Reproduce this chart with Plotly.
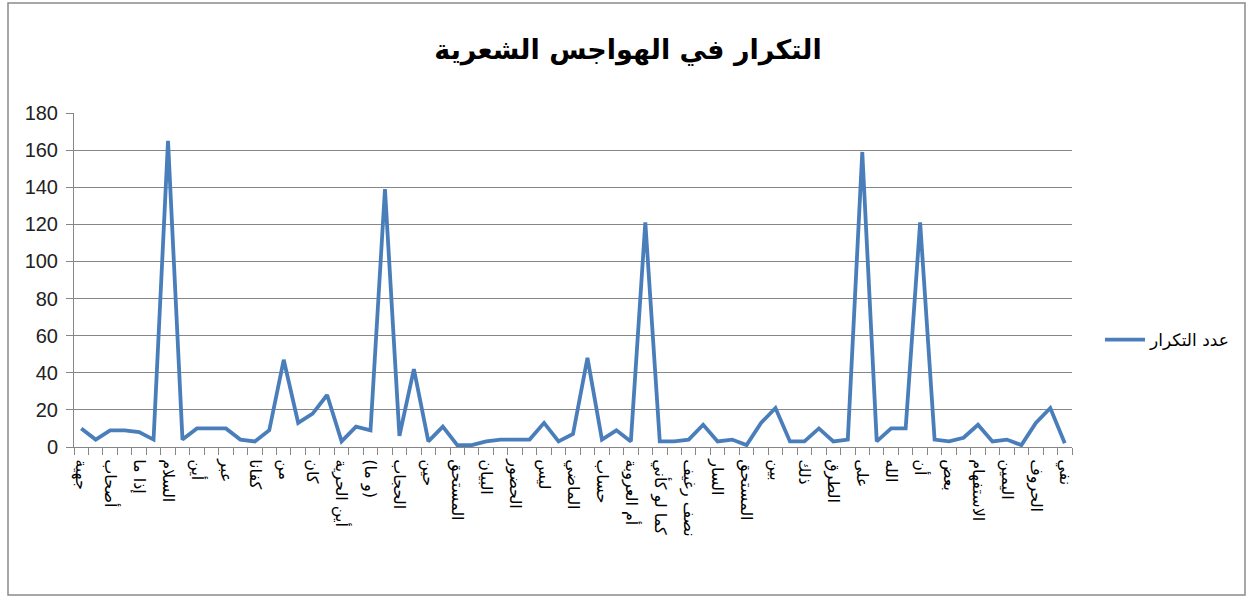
import plotly.graph_objects as go

values = [10, 4, 9, 9, 8, 4, 165, 4, 10, 10, 10, 4, 3, 9, 47, 13, 18, 28, 3, 11,
          9, 139, 6, 42, 3, 11, 1, 1, 3, 4, 4, 4, 13, 3, 7, 48, 4, 9, 3, 121,
          3, 3, 4, 12, 3, 4, 1, 13, 21, 3, 3, 10, 3, 4, 159, 3, 10, 10, 121, 4,
          3, 5, 12, 3, 4, 1, 13, 21, 2]

shown_labels = ["جهية", "أصحاب", "إذا ما", "السلام", "أين", "عبر", "كفانا", "من",
                "كان", "أين الحرية", "(و ما)", "الحجاب", "حين", "المستحق", "البيان",
                "الحضور", "ليس", "الماضي", "حساب", "أم العروبة", "كما لو كأني",
                "نصف رغيف", "السار", "المستحق", "بين", "ذلك", "الطرق", "على", "الله",
                "أن", "بعض", "الاستفهام", "اليمين", "الحروف", "نفي"]

series_name = "عدد التكرار"
title_text = "التكرار في الهواجس الشعرية"
y_ticks = [0, 20, 40, 60, 80, 100, 120, 140, 160, 180]

positions = list(range(1, len(values) + 1))
label_positions = positions[::2]

W, H = 1252, 598
L, R, T, B = 74, 1072, 113, 447
pw, ph = R - L, B - T

fig = go.Figure()
fig.add_trace(go.Scatter(
    x=positions, y=values, mode="lines", name=series_name,
    line=dict(color="#4a7ebb", width=3.8),
))

arabic_font = "DejaVu Sans, Noto Sans, sans-serif"
num_font = "Liberation Sans Narrow, Liberation Sans, Arial, sans-serif"

fig.update_layout(
    width=W, height=H,
    margin=dict(l=L, r=W - R, t=T, b=H - B, pad=0),
    paper_bgcolor="white", plot_bgcolor="white",
    title=dict(text="<b>" + title_text + "</b>", x=628 / W, xanchor="center",
               y=1 - 50 / H, yanchor="middle",
               font=dict(family=arabic_font, size=27, color="black")),
    showlegend=True,
    legend=dict(x=(1100 - L) / pw, xanchor="left", y=(B - 340) / ph, yanchor="middle",
                font=dict(family=arabic_font, size=17, color="black"),
                bgcolor="rgba(0,0,0,0)", itemwidth=40),
    xaxis=dict(
        range=[0.5, len(values) + 0.5],
        tickmode="array", tickvals=label_positions, ticktext=shown_labels,
        tickangle=90, ticks="", showgrid=False, zeroline=False,
        showline=True, linecolor="#868686", linewidth=1,
        tickfont=dict(family=arabic_font, size=16, color="black"),
        ticklabelstandoff=8,
        minor=dict(ticks="outside", tick0=0.5, dtick=1, ticklen=7,
                   tickcolor="#868686", showgrid=False),
        fixedrange=True,
    ),
    yaxis=dict(
        range=[0, 180], tickmode="array", tickvals=y_ticks,
        showgrid=True, gridcolor="#868686", gridwidth=1,
        zeroline=False, showline=True, linecolor="#868686", linewidth=1,
        ticks="outside", ticklen=7, tickcolor="#868686",
        ticklabelstandoff=4,
        tickfont=dict(family=num_font, size=20, color="#222"),
        fixedrange=True,
    ),
)

fig.add_shape(type="rect", xref="paper", yref="paper",
              x0=(8 - L) / pw, x1=(1245 - L) / pw,
              y0=(B - 595) / ph, y1=(B - 3) / ph,
              line=dict(color="#8a8a8a", width=1.5), fillcolor="rgba(0,0,0,0)",
              layer="below")

fig.write_html("out.html")
